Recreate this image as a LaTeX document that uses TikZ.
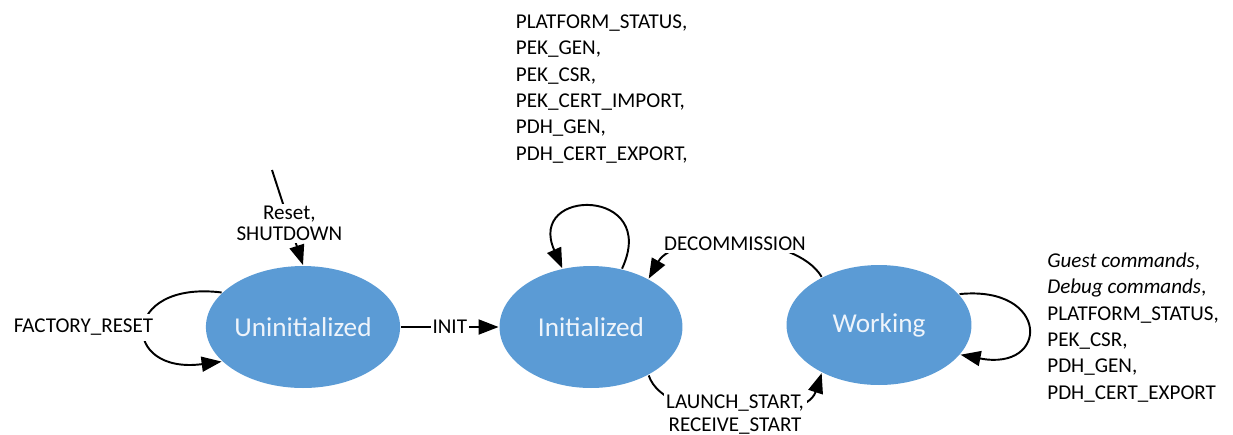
\documentclass[tikz,border=0pt]{standalone}
\usepackage{fontspec}
\setmainfont{Carlito}
\usepackage{tikz}
\usetikzlibrary{shapes,arrows.meta,positioning,calc}
\definecolor{stateblue}{HTML}{5B9BD5}
\definecolor{statetext}{HTML}{EEF4FB}

\begin{document}
\begin{tikzpicture}[x=0.02cm, y=-0.02cm, font=\fontsize{12}{15}\selectfont,
  >={Triangle[length=0.4cm,width=0.3cm]},
  stnode/.style={ellipse, fill=stateblue, text=statetext, inner sep=0pt,
    minimum width=3.66cm, minimum height=2.44cm, font=\fontsize{15.5}{18}\selectfont},
  lbl/.style={fill=white, inner sep=1.5pt},
  every path/.style={line width=1.1pt}]
\useasboundingbox (0,0) rectangle (1233,434);
\node[stnode] (uninit) at (303,327) {Uninitialized};
\node[stnode] (init) at (591,327) {Initialized};
\node[stnode, minimum width=3.7cm, minimum height=2.4cm] (working) at (879,325) {Working};
\coordinate (rst) at (272,170);
\draw[->] (rst) -- node[lbl, pos=0.56, align=center, font=\fontsize{12}{11.5}\selectfont] {Reset,\\SHUTDOWN} (uninit.north);
\draw[->] (uninit.157) .. controls (120,280) and (120,375) .. node[lbl, pos=0.5, anchor=east, xshift=0.28cm, inner sep=3pt] {FACTORY\_RESET} (uninit.203);
\draw[->] (uninit) -- node[lbl, inner sep=1pt] {INIT} (init);
\draw[->] (init.62) .. controls (660,187) and (526,187) .. node[pos=0.5, above=0.75cm, xshift=0.18cm, align=left] {PLATFORM\_STATUS,\\PEK\_GEN,\\PEK\_CSR,\\PEK\_CERT\_IMPORT,\\PDH\_GEN,\\PDH\_CERT\_EXPORT,} (init.116);
\draw[->] (working.140) .. controls (795,232) and (675,232) .. node[lbl, pos=0.5] {DECOMMISSION} (init.40);
\draw[->] (init.-40) .. controls (665,425) and (805,425) .. node[lbl, pos=0.5, yshift=-0.04cm, align=center, font=\fontsize{12}{13}\selectfont] {LAUNCH\_START,\\RECEIVE\_START} (working.-140);
\draw[->] (working.21) .. controls (1050,285) and (1050,372) .. node[pos=0.5, anchor=west, xshift=0.26cm, align=left] {\textit{Guest commands},\\\textit{Debug commands},\\PLATFORM\_STATUS,\\PEK\_CSR,\\PDH\_GEN,\\PDH\_CERT\_EXPORT} (working.-20);
\end{tikzpicture}
\end{document}
